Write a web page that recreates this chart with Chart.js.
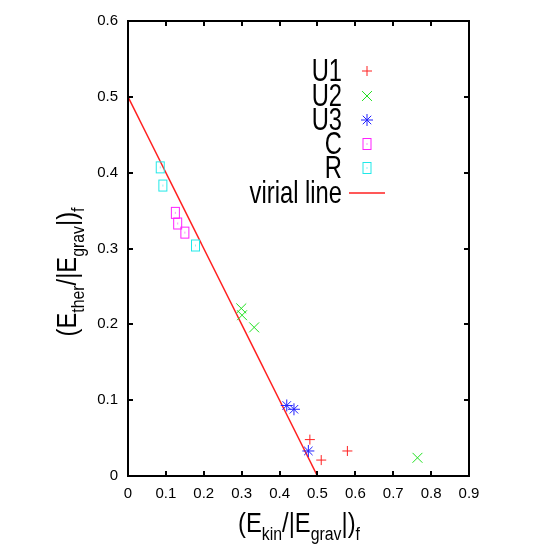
<!DOCTYPE html>
<html>
<head>
<meta charset="utf-8">
<script src="https://cdn.jsdelivr.net/npm/chart.js@4.4.1/dist/chart.umd.min.js"></script>
<style>
  html, body { margin: 0; padding: 0; background: #fff; }
  #wrap { width: 554px; height: 554px; position: relative; }
</style>
</head>
<body>
<div id="wrap"><canvas id="chart" width="554" height="554"></canvas></div>
<script>
// data
const u1X = [0.480, 0.510, 0.579];
const u1Y = [0.048, 0.021, 0.033];
const u2X = [0.299, 0.301, 0.333, 0.764];
const u2Y = [0.221, 0.212, 0.196, 0.024];
const u3X = [0.419, 0.438, 0.476];
const u3Y = [0.093, 0.088, 0.033];
const cX = [0.125, 0.131, 0.150];
const cY = [0.347, 0.333, 0.321];
const rX = [0.085, 0.092, 0.178];
const rY = [0.407, 0.383, 0.304];
const virialX = [0, 0.5];
const virialY = [0.5, 0];

const xTicks = [0, 0.1, 0.2, 0.3, 0.4, 0.5, 0.6, 0.7, 0.8, 0.9];
const yTicks = [0, 0.1, 0.2, 0.3, 0.4, 0.5, 0.6];

const FONT = '"Liberation Sans", Arial, sans-serif';
const SQUEEZE = 0.88; // gnuplot text is narrower

function pts(xs, ys) {
  return xs.map((x, i) => ({ x: x, y: ys[i] }));
}

// open box, a bit taller than wide, with a dot in the middle
function boxMarker(color) {
  const c = document.createElement('canvas');
  c.width = 11; c.height = 14;
  const g = c.getContext('2d');
  g.strokeStyle = color;
  g.lineWidth = 1;
  g.strokeRect(1.5, 1.5, 8, 11);
  g.fillStyle = color;
  g.fillRect(5, 6.5, 1, 1);
  return c;
}

function scatter(label, xs, ys, color, style, r) {
  return {
    label: label,
    data: pts(xs, ys),
    showLine: false,
    pointStyle: style,
    pointRadius: r,
    pointHoverRadius: r,
    borderColor: color,
    backgroundColor: 'rgba(0,0,0,0)',
    borderWidth: 1
  };
}

// draw text with subscript parts: [[text, isSub], ...]
function drawSubText(ctx, parts, cx, baseline, big, small) {
  ctx.save();
  ctx.translate(cx, baseline);
  ctx.scale(SQUEEZE, 1);
  let total = 0;
  parts.forEach(p => {
    ctx.font = (p[1] ? small : big) + 'px ' + FONT;
    total += ctx.measureText(p[0]).width;
  });
  let x = -total / 2;
  ctx.textAlign = 'left';
  ctx.textBaseline = 'alphabetic';
  parts.forEach(p => {
    ctx.font = (p[1] ? small : big) + 'px ' + FONT;
    ctx.fillText(p[0], x, p[1] ? big * 0.3 : 0);
    x += ctx.measureText(p[0]).width;
  });
  ctx.restore();
}

const framePlugin = {
  id: 'frame',
  afterDraw(chart) {
    const ctx = chart.ctx;
    const a = chart.chartArea;
    const xs = chart.scales.x, ys = chart.scales.y;
    ctx.save();
    ctx.strokeStyle = '#000';
    ctx.lineWidth = 2;
    ctx.strokeRect(a.left, a.top, a.right - a.left, a.bottom - a.top);
    // inward ticks on all sides
    ctx.beginPath();
    xTicks.forEach(v => {
      const px = Math.round(xs.getPixelForValue(v));
      ctx.moveTo(px, a.bottom); ctx.lineTo(px, a.bottom - 5);
      ctx.moveTo(px, a.top); ctx.lineTo(px, a.top + 5);
    });
    yTicks.forEach(v => {
      const py = Math.round(ys.getPixelForValue(v));
      ctx.moveTo(a.left, py); ctx.lineTo(a.left + 5, py);
      ctx.moveTo(a.right, py); ctx.lineTo(a.right - 5, py);
    });
    ctx.stroke();

    // axis titles
    ctx.fillStyle = '#000';
    drawSubText(ctx, [['(E', false], ['kin', true], ['/|E', false], ['grav', true], ['|)', false], ['f', true]],
      299, 532, 27, 18);
    ctx.save();
    ctx.translate(76, 272);
    ctx.rotate(-Math.PI / 2);
    drawSubText(ctx, [['(E', false], ['ther', true], ['/|E', false], ['grav', true], ['|)', false], ['f', true]],
      0, 0, 27, 18);
    ctx.restore();

    // key, text right aligned and sample to the right
    const rowY = [71, 96, 120, 144, 168, 193];
    chart.data.datasets.forEach((ds, i) => {
      const y = rowY[i];
      ctx.save();
      ctx.translate(342, y + 1);
      ctx.scale(SQUEEZE, 1.15);
      ctx.font = '27px ' + FONT;
      ctx.textAlign = 'right';
      ctx.textBaseline = 'middle';
      ctx.fillStyle = '#000';
      ctx.fillText(ds.label, 0, 0);
      ctx.restore();
      if (ds.showLine) {
        ctx.strokeStyle = ds.borderColor;
        ctx.lineWidth = 1.5;
        ctx.beginPath();
        ctx.moveTo(349, y); ctx.lineTo(385, y);
        ctx.stroke();
      } else {
        ctx.lineWidth = 1;
        ctx.strokeStyle = ds.borderColor;
        ctx.fillStyle = 'rgba(0,0,0,0)';
        Chart.helpers.drawPoint(ctx, {
          pointStyle: ds.pointStyle, radius: ds.pointRadius, borderWidth: 1, rotation: 0
        }, 367, y);
      }
    });
    ctx.restore();
  }
};

new Chart(document.getElementById('chart'), {
  type: 'scatter',
  data: {
    datasets: [
      scatter('U1', u1X, u1Y, '#ff2020', 'cross', 5),
      scatter('U2', u2X, u2Y, '#20e020', 'crossRot', 7),
      scatter('U3', u3X, u3Y, '#2020ff', 'star', 6),
      scatter('C', cX, cY, '#ff20ff', boxMarker('#ff20ff'), 6),
      scatter('R', rX, rY, '#20e8e8', boxMarker('#20e8e8'), 6),
      {
        label: 'virial line',
        data: pts(virialX, virialY),
        showLine: true,
        borderColor: '#ff2020',
        borderWidth: 1.5,
        pointRadius: 0,
        fill: false
      }
    ]
  },
  options: {
    responsive: false,
    animation: false,
    events: [],
    layout: { padding: { left: 0, right: 85, top: 21, bottom: 0 } },
    plugins: { legend: { display: false }, tooltip: { enabled: false } },
    scales: {
      x: {
        type: 'linear', min: 0, max: 0.9,
        afterBuildTicks: s => { s.ticks = xTicks.map(v => ({ value: v })); },
        afterFit: s => { s.height = 78; },
        grid: { display: false, drawTicks: false },
        border: { display: false },
        ticks: { padding: 9, color: '#000', font: { family: FONT, size: 15 }, maxRotation: 0,
                 callback: v => String(v) }
      },
      y: {
        type: 'linear', min: 0, max: 0.6,
        afterBuildTicks: s => { s.ticks = yTicks.map(v => ({ value: v })); },
        afterFit: s => { s.width = 128; },
        grid: { display: false, drawTicks: false },
        border: { display: false },
        ticks: { padding: 10, color: '#000', font: { family: FONT, size: 15 },
                 callback: v => String(v) }
      }
    }
  },
  plugins: [framePlugin]
});
</script>
</body>
</html>
